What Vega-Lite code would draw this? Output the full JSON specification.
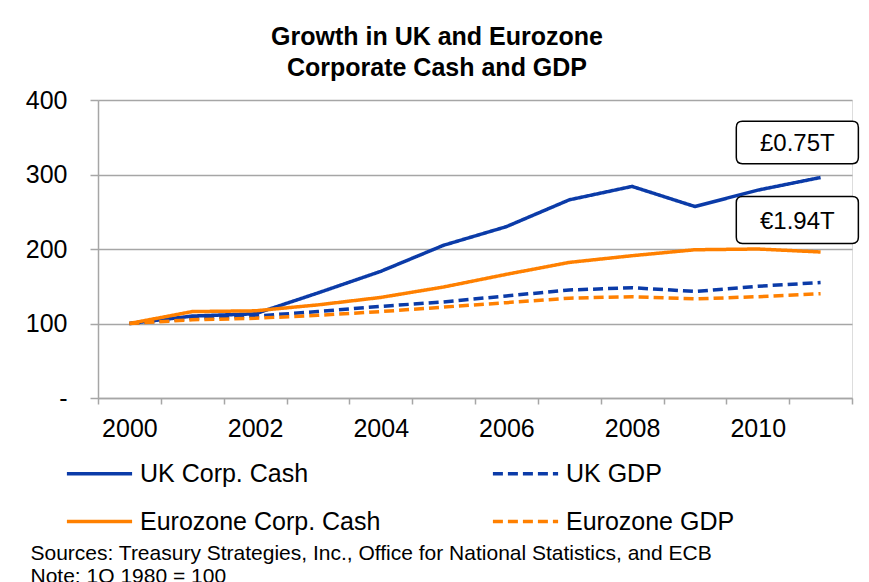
{
  "$schema": "https://vega.github.io/schema/vega-lite/v6.json",
  "autosize": "none",
  "width": 754,
  "height": 298,
  "padding": {"left": 98, "top": 100, "right": 17, "bottom": 184},
  "background": "white",
  "title": {
    "text": ["Growth in UK and Eurozone", "Corporate Cash and GDP"],
    "font": "Liberation Sans",
    "fontSize": 25,
    "fontWeight": "bold",
    "color": "black",
    "lineHeight": 31,
    "anchor": "middle",
    "frame": "group",
    "dx": -38,
    "offset": 7
  },
  "datasets": {
    "series": [
      {"year": 2000, "series": "UK Corp. Cash", "value": 100},
      {"year": 2001, "series": "UK Corp. Cash", "value": 110},
      {"year": 2002, "series": "UK Corp. Cash", "value": 113},
      {"year": 2003, "series": "UK Corp. Cash", "value": 141},
      {"year": 2004, "series": "UK Corp. Cash", "value": 170},
      {"year": 2005, "series": "UK Corp. Cash", "value": 205},
      {"year": 2006, "series": "UK Corp. Cash", "value": 230},
      {"year": 2007, "series": "UK Corp. Cash", "value": 266},
      {"year": 2008, "series": "UK Corp. Cash", "value": 284},
      {"year": 2009, "series": "UK Corp. Cash", "value": 257},
      {"year": 2010, "series": "UK Corp. Cash", "value": 279},
      {"year": 2011, "series": "UK Corp. Cash", "value": 296},
      {"year": 2000, "series": "UK GDP", "value": 100},
      {"year": 2001, "series": "UK GDP", "value": 107},
      {"year": 2002, "series": "UK GDP", "value": 110},
      {"year": 2003, "series": "UK GDP", "value": 116},
      {"year": 2004, "series": "UK GDP", "value": 123},
      {"year": 2005, "series": "UK GDP", "value": 129},
      {"year": 2006, "series": "UK GDP", "value": 137},
      {"year": 2007, "series": "UK GDP", "value": 145},
      {"year": 2008, "series": "UK GDP", "value": 148},
      {"year": 2009, "series": "UK GDP", "value": 143},
      {"year": 2010, "series": "UK GDP", "value": 150},
      {"year": 2011, "series": "UK GDP", "value": 155},
      {"year": 2000, "series": "Eurozone Corp. Cash", "value": 100},
      {"year": 2001, "series": "Eurozone Corp. Cash", "value": 116},
      {"year": 2002, "series": "Eurozone Corp. Cash", "value": 117},
      {"year": 2003, "series": "Eurozone Corp. Cash", "value": 125},
      {"year": 2004, "series": "Eurozone Corp. Cash", "value": 135},
      {"year": 2005, "series": "Eurozone Corp. Cash", "value": 149},
      {"year": 2006, "series": "Eurozone Corp. Cash", "value": 166},
      {"year": 2007, "series": "Eurozone Corp. Cash", "value": 182},
      {"year": 2008, "series": "Eurozone Corp. Cash", "value": 191},
      {"year": 2009, "series": "Eurozone Corp. Cash", "value": 199},
      {"year": 2010, "series": "Eurozone Corp. Cash", "value": 200},
      {"year": 2011, "series": "Eurozone Corp. Cash", "value": 196},
      {"year": 2000, "series": "Eurozone GDP", "value": 100},
      {"year": 2001, "series": "Eurozone GDP", "value": 105},
      {"year": 2002, "series": "Eurozone GDP", "value": 107},
      {"year": 2003, "series": "Eurozone GDP", "value": 111},
      {"year": 2004, "series": "Eurozone GDP", "value": 116},
      {"year": 2005, "series": "Eurozone GDP", "value": 122},
      {"year": 2006, "series": "Eurozone GDP", "value": 128},
      {"year": 2007, "series": "Eurozone GDP", "value": 134},
      {"year": 2008, "series": "Eurozone GDP", "value": 136},
      {"year": 2009, "series": "Eurozone GDP", "value": 133},
      {"year": 2010, "series": "Eurozone GDP", "value": 136},
      {"year": 2011, "series": "Eurozone GDP", "value": 140}
    ],
    "notes": [
      {"year": 2011, "value": 343, "label": "£0.75T"},
      {"year": 2011, "value": 239, "label": "€1.94T"}
    ]
  },
  "encoding": {
    "x": {
      "field": "year",
      "type": "ordinal",
      "scale": {"type": "band", "paddingInner": 0, "paddingOuter": 0, "domain": [2000,2001,2002,2003,2004,2005,2006,2007,2008,2009,2010,2011]},
      "axis": {
        "title": ["Sources: Treasury Strategies, Inc., Office for National Statistics, and ECB", "Note: 1Q 1980 = 100"],
        "titleFont": "Liberation Sans",
        "titleFontSize": 21,
        "titleFontWeight": "normal",
        "titleColor": "black",
        "titleAlign": "left",
        "titleBaseline": "top",
        "titleLineHeight": 23,
        "titleX": -68,
        "titleY": 144,
        "labelAngle": 0,
        "labelExpr": "datum.value % 2 == 0 ? datum.label : ''",
        "labelFont": "Liberation Sans",
        "labelFontSize": 25,
        "labelColor": "black",
        "labelPadding": 12,
        "tickBand": "extent",
        "tickSize": 6,
        "tickColor": "#A6A6A6",
        "tickWidth": 1.5,
        "domainColor": "#A6A6A6",
        "domainWidth": 1.5,
        "grid": false
      }
    },
    "y": {
      "field": "value",
      "type": "quantitative",
      "scale": {"domain": [0, 400], "nice": false},
      "axis": {
        "title": null,
        "values": [0, 100, 200, 300, 400],
        "labelExpr": "datum.value == 0 ? '-' : datum.label",
        "labelFont": "Liberation Sans",
        "labelFontSize": 25,
        "labelColor": "black",
        "labelPadding": 23,
        "tickSize": 8,
        "tickColor": "#A6A6A6",
        "tickWidth": 1.5,
        "domainColor": "#A6A6A6",
        "domainWidth": 1.5,
        "grid": true,
        "gridColor": "#A6A6A6",
        "gridWidth": 1.5
      }
    }
  },
  "layer": [
    {
      "data": {"name": "series"},
      "mark": {"type": "line", "strokeWidth": 3.5},
      "encoding": {
        "x": {"field": "year", "type": "ordinal", "bandPosition": 0.5},
        "color": {
          "field": "series",
          "type": "nominal",
          "scale": {
            "domain": ["UK Corp. Cash", "UK GDP", "Eurozone Corp. Cash", "Eurozone GDP"],
            "range": ["#0B3BA8", "#0B3BA8", "#FF8000", "#FF8000"]
          },
          "legend": {
            "title": null,
            "orient": "none",
            "direction": "horizontal",
            "legendX": -33,
            "legendY": 339,
            "columns": 2,
            "columnPadding": 104,
            "rowPadding": 0,
            "padding": 0,
            "symbolType": "stroke",
            "symbolSize": 4250,
            "symbolStrokeWidth": 3.5,
            "labelFont": "Liberation Sans",
            "labelFontSize": 25,
            "labelColor": "black",
            "labelOffset": 6,
            "labelLimit": 400
          }
        },
        "strokeDash": {
          "field": "series",
          "type": "nominal",
          "scale": {
            "domain": ["UK Corp. Cash", "UK GDP", "Eurozone Corp. Cash", "Eurozone GDP"],
            "range": [[1, 0], [10, 5], [1, 0], [10, 5]]
          },
          "legend": {
            "title": null,
            "orient": "none",
            "direction": "horizontal",
            "legendX": -33,
            "legendY": 339,
            "columns": 2,
            "columnPadding": 104,
            "rowPadding": 0,
            "padding": 0,
            "symbolType": "stroke",
            "symbolSize": 4250,
            "symbolStrokeWidth": 3.5,
            "labelFont": "Liberation Sans",
            "labelFontSize": 25,
            "labelColor": "black",
            "labelOffset": 6,
            "labelLimit": 400
          }
        }
      }
    },
    {
      "data": {"name": "notes"},
      "mark": {"type": "point", "filled": true, "fill": "white", "stroke": "black", "strokeWidth": 1.5, "opacity": 1, "size": 14900},
      "encoding": {
        "x": {"field": "year", "type": "ordinal", "bandPosition": 0.13},
        "shape": {
          "field": "label",
          "type": "nominal",
          "scale": {
            "domain": ["£0.75T", "€1.94T"],
            "range": [
              "M-0.9,-0.347L0.9,-0.347Q1,-0.347,1,-0.247L1,0.247Q1,0.347,0.9,0.347L-0.9,0.347Q-1,0.347,-1,0.247L-1,-0.247Q-1,-0.347,-0.9,-0.347Z",
              "M-0.9,-0.385L0.9,-0.385Q1,-0.385,1,-0.285L1,0.285Q1,0.385,0.9,0.385L-0.9,0.385Q-1,0.385,-1,0.285L-1,-0.285Q-1,-0.385,-0.9,-0.385Z"
            ]
          },
          "legend": null
        }
      }
    },
    {
      "data": {"name": "notes"},
      "mark": {"type": "text", "font": "Liberation Sans", "fontSize": 24, "color": "black", "baseline": "middle", "align": "center", "dy": 2},
      "encoding": {
        "x": {"field": "year", "type": "ordinal", "bandPosition": 0.13},
        "text": {"field": "label"}
      }
    }
  ]
}
